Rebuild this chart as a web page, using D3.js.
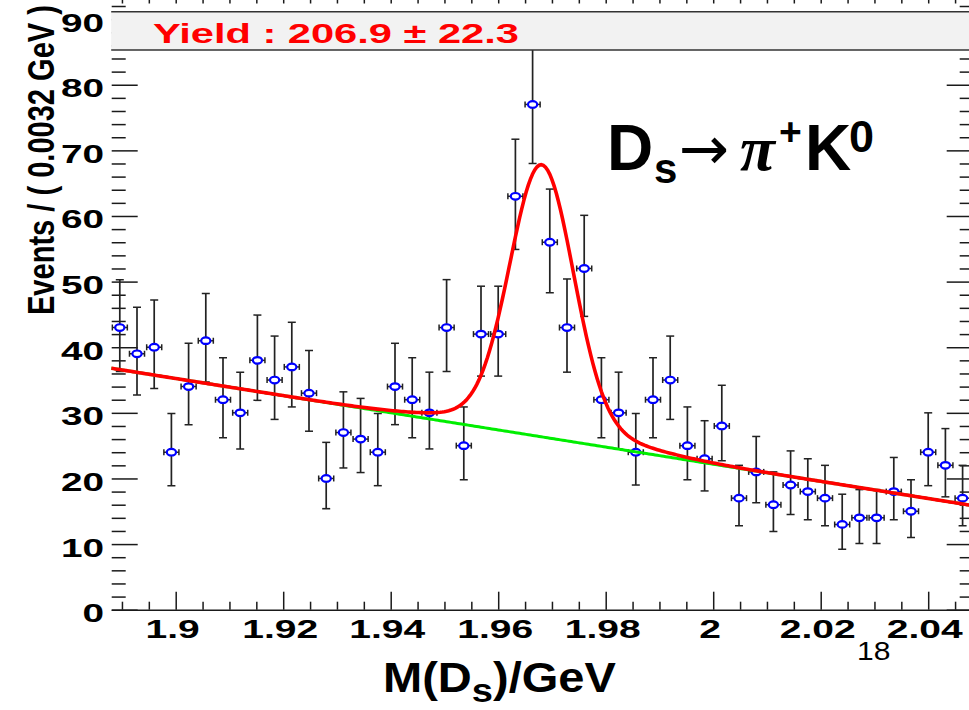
<!DOCTYPE html>
<html>
<head>
<meta charset="utf-8">
<script src="https://cdn.jsdelivr.net/npm/d3@7"></script>
<style>
  body { margin: 0; background: #fff; }
  svg { display: block; }
  text { font-family: "Liberation Sans", Arial, sans-serif; }
</style>
</head>
<body>
<svg id="chart" width="969" height="710"></svg>
<script>
// Invariant-mass spectrum of Ds -> pi+ K0 candidates with a signal + linear background fit

// Histogram binning (GeV)
const binLow = 1.888;
const binWidth = 0.0032;

// Events per bin
const counts = [43, 39, 40, 24, 34, 41, 32, 30, 38, 35,
                37, 33, 20, 27, 26, 24, 34, 32, 30, 43,
                25, 42, 42, 63, 77, 56, 43, 52, 32, 30,
                24, 32, 35, 25, 23, 28, 17, 21, 16, 19,
                18, 17, 13, 14, 14, 18, 15, 24, 22, 17];

// Upper and lower ends of the (Poisson) error bars
const errHigh = [50.3, 46.1, 47.2, 29.9, 40.6, 48.2, 38.4, 36.2, 44.9, 41.7,
                 43.8, 39.5, 25.5, 33.2, 32.2, 29.9, 40.6, 38.4, 36.2, 50.3,
                 30.9, 49.3, 49.3, 71.7, 86.3, 64.1, 50.4, 60.1, 38.4, 36.2,
                 29.9, 38.4, 41.7, 30.9, 28.8, 34.2, 22.0, 26.4, 21.0, 24.2,
                 23.0, 22.0, 17.6, 18.3, 18.3, 23.2, 19.8, 30.0, 27.6, 22.0];
const errLow  = [36.3, 32.7, 33.7, 18.9, 28.2, 34.7, 26.2, 24.5, 31.9, 29.0,
                 30.9, 27.2, 15.4, 21.6, 20.9, 18.9, 28.2, 26.2, 24.5, 36.3,
                 19.8, 35.6, 35.6, 54.9, 68.0, 48.3, 36.2, 44.7, 26.2, 24.5,
                 19.0, 26.2, 29.0, 19.8, 18.1, 22.7, 12.8, 16.3, 11.9, 14.5,
                 13.7, 12.8,  9.2, 10.1, 10.1, 13.7, 11.0, 18.9, 17.2, 12.8];

// Axis ticks
const xTickValues = [1.90, 1.92, 1.94, 1.96, 1.98, 2.00, 2.02, 2.04];
const xTickLabels = ["1.9", "1.92", "1.94", "1.96", "1.98", "2", "2.02", "2.04"];
const yTickValues = [0, 10, 20, 30, 40, 50, 60, 70, 80, 90];
const yTickLabels = ["0", "10", "20", "30", "40", "50", "60", "70", "80", "90"];

// Fit result: double-Gaussian signal on a linear background
const fitYield = 206.9;
const fitYieldErr = 22.3;
const sigMean = 1.9681;
const sigSigmaCore = 0.00585;
const sigSigmaWide = 0.014;
const sigCoreFrac = 0.86;
const bkgAtLow = 36.8;      // events/bin at the low edge of the range
const bkgSlope = -130.6;    // events/bin per GeV

const nBins = counts.length;
const binHigh = binLow + nBins * binWidth;
const binCenters = counts.map((_, i) => binLow + (i + 0.5) * binWidth);

// ---------------------------------------------------------------
const svg = d3.select("#chart");
const frame = { left: 111.2, right: 971.2, top: -4.5, bottom: 609.7 };

const x = d3.scaleLinear().domain([binLow, binHigh]).range([frame.left, frame.right]);
const y = d3.scaleLinear().domain([0, 93.6]).range([frame.bottom, frame.top]);

svg.append("rect").attr("width", 969).attr("height", 710).attr("fill", "#fff");

svg.append("defs").append("clipPath").attr("id", "frameClip")
  .append("rect")
  .attr("x", frame.left).attr("y", frame.top)
  .attr("width", frame.right - frame.left).attr("height", frame.bottom - frame.top);

// Text whose glyphs are stretched horizontally by sx, anchored at (px, py)
function stretchedText(parent, str, px, py, opt) {
  const t = parent.append("text")
    .attr("font-size", opt.size)
    .attr("font-weight", opt.weight || "bold")
    .attr("fill", opt.fill || "#000")
    .text(str);
  if (opt.family) t.style("font-family", opt.family);
  const bb = t.node().getBBox();
  const sx = opt.width ? opt.width / bb.width : (opt.sx || 1);
  const k = opt.anchor === "end" ? 1 : opt.anchor === "middle" ? 0.5 : 0;
  t.attr("transform", `translate(${px - (bb.x + bb.width * k) * sx},${py}) scale(${sx},1)`);
  return t;
}

// ---------------- axes ----------------
const axisColor = "#1a1a1a";
function styleAxis(g, keepDomain) {
  g.selectAll("line").attr("stroke", axisColor).attr("stroke-width", 1.5);
  g.selectAll("text").remove();
  if (keepDomain) g.select(".domain").attr("stroke", axisColor).attr("stroke-width", 1.6);
  else g.select(".domain").remove();
}

const xMinor = d3.range(1.890, 2.0476, 0.005)
  .map(v => +v.toFixed(3))
  .filter(v => !xTickValues.some(t => Math.abs(t - v) < 1e-6));
const yMinor = d3.range(2, 93, 2).filter(v => v % 10 !== 0);

// bottom
svg.append("g").attr("transform", `translate(0,${frame.bottom})`)
  .call(d3.axisBottom(x).tickValues(xTickValues).tickSizeInner(-18).tickSizeOuter(0).tickFormat(""))
  .call(g => styleAxis(g, true));
svg.append("g").attr("transform", `translate(0,${frame.bottom})`)
  .call(d3.axisBottom(x).tickValues(xMinor).tickSizeInner(-8).tickSizeOuter(0).tickFormat(""))
  .call(g => styleAxis(g, false));
// top
svg.append("g").attr("transform", `translate(0,${frame.top})`)
  .call(d3.axisTop(x).tickValues(xTickValues.concat(xMinor)).tickSizeInner(-8).tickSizeOuter(0).tickFormat(""))
  .call(g => styleAxis(g, false));
// left
svg.append("g").attr("transform", `translate(${frame.left + 0.5},0)`)
  .call(d3.axisLeft(y).tickValues(yTickValues).tickSizeInner(-26).tickSizeOuter(0).tickFormat(""))
  .call(g => styleAxis(g, false));
svg.append("g").attr("transform", `translate(${frame.left + 0.5},0)`)
  .call(d3.axisLeft(y).tickValues(yMinor).tickSizeInner(-14).tickSizeOuter(0).tickFormat(""))
  .call(g => styleAxis(g, false));
// right
svg.append("g").attr("transform", `translate(${frame.right - 1.5},0)`)
  .call(d3.axisRight(y).tickValues(yTickValues).tickSizeInner(-23).tickSizeOuter(0).tickFormat(""))
  .call(g => styleAxis(g, false));
svg.append("g").attr("transform", `translate(${frame.right - 1.5},0)`)
  .call(d3.axisRight(y).tickValues(yMinor).tickSizeInner(-10).tickSizeOuter(0).tickFormat(""))
  .call(g => styleAxis(g, false));

// tick labels
const labels = svg.append("g");
xTickValues.forEach((v, i) => {
  stretchedText(labels, xTickLabels[i], x(v) - 3, 638, { size: 26, sx: 1.5, anchor: "middle" });
});
yTickValues.forEach((v, i) => {
  stretchedText(labels, yTickLabels[i], 104, y(v) + 12.5, { size: 25, sx: 1.55, anchor: "end" });
});

// ---------------- data points ----------------
const data = counts.map((c, i) => ({ x: binCenters[i], n: c, hi: errHigh[i], lo: errLow[i] }));
const xHalf = 0.0014;
const pts = svg.append("g").attr("clip-path", "url(#frameClip)");
const pg = pts.selectAll("g.pt").data(data).join("g").attr("class", "pt");
const barColor = "#222";
pg.append("line")
  .attr("x1", d => x(d.x)).attr("x2", d => x(d.x))
  .attr("y1", d => y(d.hi)).attr("y2", d => y(d.lo))
  .attr("stroke", barColor).attr("stroke-width", 1.7);
pg.append("line")
  .attr("x1", d => x(d.x) - 4).attr("x2", d => x(d.x) + 4)
  .attr("y1", d => y(d.hi)).attr("y2", d => y(d.hi))
  .attr("stroke", barColor).attr("stroke-width", 1.5);
pg.append("line")
  .attr("x1", d => x(d.x) - 4).attr("x2", d => x(d.x) + 4)
  .attr("y1", d => y(d.lo)).attr("y2", d => y(d.lo))
  .attr("stroke", barColor).attr("stroke-width", 1.5);
pg.append("line")
  .attr("x1", d => x(d.x - xHalf)).attr("x2", d => x(d.x + xHalf))
  .attr("y1", d => y(d.n)).attr("y2", d => y(d.n))
  .attr("stroke", barColor).attr("stroke-width", 1.5);
[-1, 1].forEach(s => {
  pg.append("line")
    .attr("x1", d => x(d.x + s * xHalf)).attr("x2", d => x(d.x + s * xHalf))
    .attr("y1", d => y(d.n) - 3).attr("y2", d => y(d.n) + 3)
    .attr("stroke", barColor).attr("stroke-width", 1.5);
});
pg.append("ellipse")
  .attr("cx", d => x(d.x)).attr("cy", d => y(d.n))
  .attr("rx", 4.6).attr("ry", 3.3)
  .attr("fill", "#fff").attr("stroke", "#0000ff").attr("stroke-width", 2.2);

// ---------------- fit curves ----------------
const gauss = (v, m, s) => Math.exp(-0.5 * ((v - m) / s) ** 2) / (Math.sqrt(2 * Math.PI) * s);
const background = v => bkgAtLow + bkgSlope * (v - binLow);
const signal = v => fitYield * binWidth *
  (sigCoreFrac * gauss(v, sigMean, sigSigmaCore) + (1 - sigCoreFrac) * gauss(v, sigMean, sigSigmaWide));

const grid = d3.range(binLow, binHigh + 1e-9, 0.0004);
const curve = svg.append("g").attr("clip-path", "url(#frameClip)");
curve.append("path")
  .datum(grid)
  .attr("fill", "none").attr("stroke", "#00ee00").attr("stroke-width", 3)
  .attr("d", d3.line().x(v => x(v)).y(v => y(background(v))));
curve.append("path")
  .datum(grid)
  .attr("fill", "none").attr("stroke", "#ff0000").attr("stroke-width", 3.6)
  .attr("d", d3.line().x(v => x(v)).y(v => y(background(v) + signal(v))));

// ---------------- yield box ----------------
svg.append("rect")
  .attr("x", frame.left).attr("y", 11.7).attr("width", 969 - frame.left + 10).attr("height", 38.3)
  .attr("fill", "#f2f2f2");
svg.append("line").attr("x1", frame.left).attr("x2", 969).attr("y1", 11.7).attr("y2", 11.7)
  .attr("stroke", "#333").attr("stroke-width", 1.5);
svg.append("line").attr("x1", frame.left).attr("x2", 969).attr("y1", 50).attr("y2", 50)
  .attr("stroke", "#333").attr("stroke-width", 1.5);
stretchedText(svg, `Yield : ${fitYield.toFixed(1)} \u00b1 ${fitYieldErr.toFixed(1)}`, 153, 42.7,
  { size: 28.5, width: 366, fill: "#ff0000" });

// ---------------- axis titles ----------------
const xt = svg.append("text").attr("font-size", 42).attr("font-weight", "bold");
xt.append("tspan").text("M(D");
xt.append("tspan").attr("font-size", 34).attr("dy", 10).text("s");
xt.append("tspan").attr("dy", -10).text(")/GeV");
{
  const bb = xt.node().getBBox();
  const sx = 233 / bb.width;
  xt.attr("transform", `translate(${383 - bb.x * sx},692) scale(${sx},1)`);
}

const ytG = svg.append("g").attr("transform", "translate(53.5,315) rotate(-90)");
const yt = ytG.append("text").attr("font-size", 29).attr("font-weight", "bold").text("Events / ( 0.0032 GeV )");
{
  const bb = yt.node().getBBox();
  const sx = 310 / bb.width;
  yt.attr("transform", `translate(${-bb.x * sx},0) scale(${sx},1.27)`);
}

// ---------------- decay label ----------------
const dl = svg.append("g");
dl.append("text").attr("x", 607).attr("y", 170).attr("font-size", 64).attr("font-weight", "bold").text("D");
dl.append("text").attr("x", 654).attr("y", 183).attr("font-size", 42).attr("font-weight", "bold").text("s");
dl.append("text").attr("x", 679).attr("y", 169).attr("font-size", 60)
  .style("font-family", "'DejaVu Sans', sans-serif").text("\u2192");
dl.append("text").attr("x", 740).attr("y", 170).attr("font-size", 64)
  .style("font-family", "'Liberation Serif', serif").attr("font-style", "italic").attr("font-weight", "bold")
  .text("\u03c0");
dl.append("text").attr("x", 779).attr("y", 145).attr("font-size", 39).attr("font-weight", "bold").text("+");
dl.append("text").attr("x", 805).attr("y", 170).attr("font-size", 64).attr("font-weight", "bold").text("K");
dl.append("text").attr("x", 849).attr("y", 152).attr("font-size", 45).attr("font-weight", "bold").text("0");

// small stray label under the axis
stretchedText(svg, "18", 857, 660, { size: 25, weight: "normal", sx: 1.2 });
</script>
</body>
</html>
